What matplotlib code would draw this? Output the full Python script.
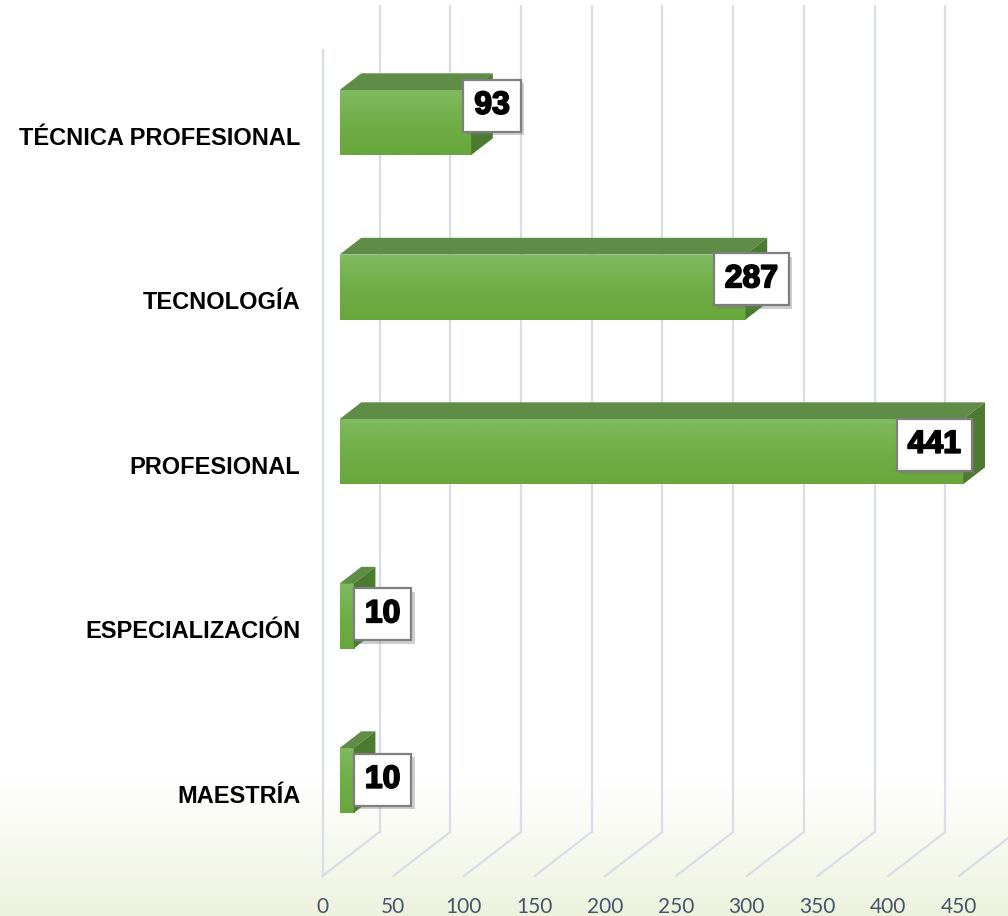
import numpy as np
import matplotlib
matplotlib.use("Agg")
import matplotlib.pyplot as plt
from matplotlib.patches import Polygon
from matplotlib.colors import to_rgb
import matplotlib.patheffects as pe

# ---------------- data ----------------
categories = ["TÉCNICA PROFESIONAL", "TECNOLOGÍA", "PROFESIONAL",
              "ESPECIALIZACIÓN", "MAESTRÍA"]
values = [93, 287, 441, 10, 10]
x_ticks = [0, 50, 100, 150, 200, 250, 300, 350, 400, 450]
x_tick_labels = ["0", "50", "100", "150", "200", "250", "300", "350", "400", "450"]

# ---------------- style / layout ----------------
W, H = 1008, 916
label_offsets_px = [(38, 30), (23, 21), (-12, 20), (46, 15), (46, 14)]

fig = plt.figure(figsize=(W / 100, H / 100), dpi=100)

# background: white fading to a pale green at the bottom
bg = fig.add_axes([0, 0, 1, 1], zorder=-10)
rows = np.linspace(0, 1, H)
t = np.clip((rows - 0.85) / 0.15, 0, 1) ** 1.1
top_c = np.array(to_rgb("#FFFFFF"))
bot_c = np.array(to_rgb("#EDF2DD"))
grad = top_c[None, :] * (1 - t[:, None]) + bot_c[None, :] * t[:, None]
bg.imshow(grad[:, None, :], aspect="auto", extent=(0, 1, 0, 1), origin="upper")
bg.set_xlim(0, 1); bg.set_ylim(0, 1)
bg.axis("off")

X0_PX, X1_PX = 322.5, 959.0
Y_TOP_PX, Y_BOT_PX = 53.5, 876.0
ax = fig.add_axes([X0_PX / W, 1 - Y_BOT_PX / H,
                   (X1_PX - X0_PX) / W, (Y_BOT_PX - Y_TOP_PX) / H])
ax.patch.set_alpha(0)
XMAX = x_ticks[-1]
NC = len(categories)
ppu = (X1_PX - X0_PX) / XMAX          # pixels per value unit
ppc = (Y_BOT_PX - Y_TOP_PX) / NC      # pixels per category
DV = 57 / ppu                          # depth offset in value units
DC = 44 / ppc                          # depth offset in category units


def P(v, c, d):
    """oblique projection: value, category, depth(0 front .. 1 back)"""
    return (v + d * DV, c - d * DC)


grid_c = "#DADDE7"
top_idx = -0.52
floor_idx = NC - 0.5
for v in x_ticks:
    a = P(v, floor_idx, 1); b = P(v, top_idx, 1)
    ax.plot([a[0], b[0]], [a[1], b[1]], color=grid_c, lw=1.6, clip_on=False, zorder=1)
    a = P(v, floor_idx, 0); b = P(v, floor_idx, 1)
    ax.plot([a[0], b[0]], [a[1], b[1]], color=grid_c, lw=1.6, clip_on=False, zorder=1)
a = P(0, floor_idx, 0); b = P(0, top_idx, 0)
ax.plot([a[0], b[0]], [a[1], b[1]], color=grid_c, lw=1.6, clip_on=False, zorder=1)

# bars
HB = 32.5 / ppc
F1, F2 = 0.30, 0.68
g_top = np.array(to_rgb("#80BB60"))
g_mid = np.array(to_rgb("#71AF47"))
g_bot = np.array(to_rgb("#67A73B"))
s = np.linspace(0, 1, 64)
face_grad = np.where(s[:, None] < 0.45,
                     g_top + (g_mid - g_top) * (s[:, None] / 0.45),
                     g_mid + (g_bot - g_mid) * ((s[:, None] - 0.45) / 0.55))

for i, (cat, v) in enumerate(zip(categories, values)):
    c = i
    l, ytop = P(0, c - HB, F1)
    r, ybot = P(v, c + HB, F1)
    im = ax.imshow(face_grad[:, None, :], aspect="auto", origin="upper",
                   extent=(l, r, ybot, ytop), interpolation="bilinear", zorder=3)
    im.set_clip_on(False)
    topface = [P(0, c - HB, F1), P(v, c - HB, F1), P(v, c - HB, F2), P(0, c - HB, F2)]
    ax.add_patch(Polygon(topface, closed=True, fc="#5F8C47", ec="none", zorder=3,
                         clip_on=False))
    side = [P(v, c - HB, F1), P(v, c + HB, F1), P(v, c + HB, F2), P(v, c - HB, F2)]
    ax.add_patch(Polygon(side, closed=True, fc="#4B7B2E", ec="none", zorder=3,
                         clip_on=False))

    txt = ax.annotate(str(v), xy=P(v, c, 0), xytext=label_offsets_px[i],
                      textcoords="offset pixels", ha="center", va="center",
                      fontsize=23, fontweight="bold", family="Liberation Sans",
                      color="black", zorder=6, annotation_clip=False,
                      bbox=dict(boxstyle="square,pad=0.34", fc="white",
                                ec="#7F7F7F", lw=1.6))
    txt.set_path_effects([pe.withStroke(linewidth=1.3, foreground="black")])
    txt.get_bbox_patch().set_path_effects(
        [pe.SimplePatchShadow(offset=(2.5, -2.5), shadow_rgbFace="#777777", alpha=0.35),
         pe.Normal()])

ax.set_xlim(0, XMAX)
ax.set_ylim(NC - 0.5, -0.5)
ax.set_xticks(x_ticks)
ax.set_xticklabels(x_tick_labels, family="Lato", fontsize=15, color="#44546A")
ax.set_yticks(range(NC))
ax.set_yticklabels(categories, family="Liberation Sans", fontweight="bold",
                   fontsize=17, color="black")
ax.tick_params(axis="x", length=0, pad=15)
ax.tick_params(axis="y", length=0, pad=16)
for sp in ax.spines.values():
    sp.set_visible(False)

fig.savefig("out.png", dpi=100)
